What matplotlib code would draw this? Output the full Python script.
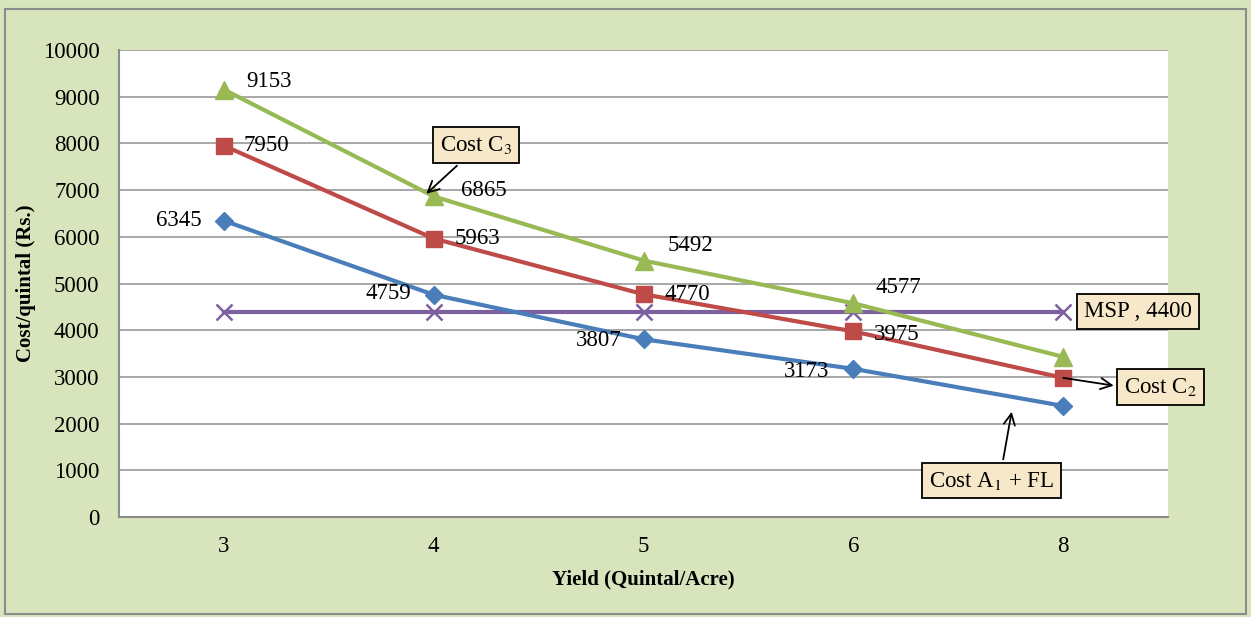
import numpy as np
import matplotlib
matplotlib.use('Agg')
import matplotlib.pyplot as plt

plt.rcParams['font.family'] = ['Liberation Serif', 'DejaVu Serif']
plt.rcParams['mathtext.fontset'] = 'stix'

yields = ['3', '4', '5', '6', '8']
cost_a1_fl = [6345, 4759, 3807, 3173, 2380]
cost_c2 = [7950, 5963, 4770, 3975, 2980]
cost_c3 = [9153, 6865, 5492, 4577, 3430]
msp = [4400, 4400, 4400, 4400, 4400]

fig = plt.figure(figsize=(12.51, 6.17), dpi=100)
fig.patch.set_facecolor('#D8E4BC')
fig.patches.append(plt.Rectangle((0.004, 0.005), 0.992, 0.98, transform=fig.transFigure,
                                 fill=False, edgecolor='#8c8c8c', linewidth=1.5))

ax = fig.add_axes([0.0951, 0.162, 0.8386, 0.757])
x = np.arange(len(yields))

ax.plot(x, msp, color='#7D60A0', lw=3, marker='x', ms=11, mew=1.8, zorder=3)
ax.plot(x, cost_a1_fl, color='#4A7EBB', lw=3, marker='D', ms=9, zorder=4)
ax.plot(x, cost_c2, color='#BE4B48', lw=3, marker='s', ms=11, zorder=4)
ax.plot(x, cost_c3, color='#98B954', lw=3, marker='^', ms=13, zorder=4)

ax.set_xlim(-0.5, 4.5)
ax.set_ylim(0, 10000)
ax.set_yticks(range(0, 10001, 1000))
ax.set_xticks(x)
ax.set_xticklabels(yields)
ax.grid(axis='y', color='#a0a0a0', lw=1.3)
ax.set_axisbelow(True)
for s in ['top', 'right']:
    ax.spines[s].set_visible(False)
for s in ['left', 'bottom']:
    ax.spines[s].set_color('#8c8c8c')
    ax.spines[s].set_linewidth(1.5)

fs = 16.5
ax.tick_params(length=0, labelsize=fs)
ax.tick_params(axis='y', pad=14)
ax.tick_params(axis='x', pad=14)

ax.set_xlabel('Yield (Quintal/Acre)', fontsize=15, fontweight='bold')
ax.set_ylabel('Cost/quintal (Rs.)', fontsize=15, fontweight='bold')
ax.xaxis.set_label_coords(0.5, -0.112)
ax.yaxis.set_label_coords(-0.079, 0.5)

# data labels (offsets in points)
lab = [
    (0, cost_c3[0], (16, 6)),
    (0, cost_c2[0], (14, 0)),
    (0, cost_a1_fl[0], (-16, 0)),
    (1, cost_c3[1], (20, 4)),
    (1, cost_c2[1], (15, 0)),
    (1, cost_a1_fl[1], (-16, 1)),
    (2, cost_c3[2], (17, 11)),
    (2, cost_c2[2], (15, 0)),
    (2, cost_a1_fl[2], (-16, -1)),
    (3, cost_c3[3], (16, 11)),
    (3, cost_c2[3], (15, -2)),
    (3, cost_a1_fl[3], (-17, -2)),
]
for xi, yi, off in lab:
    ha = 'right' if off[0] < 0 else 'left'
    ax.annotate(str(yi), (xi, yi), xytext=off, textcoords='offset points',
                ha=ha, va='center', fontsize=fs, zorder=5)

box = dict(boxstyle='square,pad=0.3', fc='#F6E8C8', ec='black', lw=1.3)
arr = dict(arrowstyle='->', color='black', lw=1.3, mutation_scale=20)
ax.annotate('Cost C$_3$', xy=(0.955, 6880), xytext=(1.2, 7960),
            ha='center', va='center', fontsize=fs, bbox=box, zorder=6,
            arrowprops=dict(arr, relpos=(0.45, 0.2)))
ax.annotate('MSP , 4400', xy=(4, msp[4]), xytext=(4.1, msp[4]),
            ha='left', va='center', fontsize=fs, bbox=box, zorder=6)
ax.annotate('Cost C$_2$', xy=(4.0, cost_c2[4]), xytext=(4.29, 2780),
            ha='left', va='center', fontsize=fs, bbox=box, zorder=6,
            arrowprops=dict(arrowstyle='<-', color='black', lw=1.3, mutation_scale=20,
                            shrinkB=0, relpos=(0, 0.5)))
ax.annotate('Cost A$_1$ + FL', xy=(3.757, 2313), xytext=(3.66, 780),
            ha='center', va='center', fontsize=fs, bbox=box, zorder=6,
            arrowprops=dict(arr, relpos=(0.57, 0.8)))

fig.savefig('out.png', dpi=100, facecolor=fig.get_facecolor())
